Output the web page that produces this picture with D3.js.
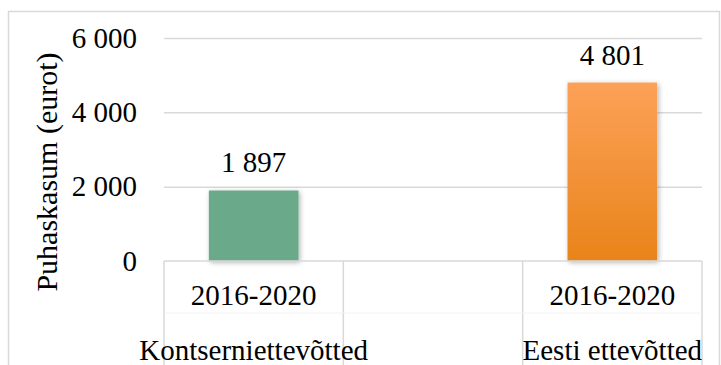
<!DOCTYPE html>
<html>
<head>
<meta charset="utf-8">
<script src="https://cdn.jsdelivr.net/npm/d3@7"></script>
<style>
  html, body { margin: 0; padding: 0; background: #fff; }
  svg text { font-family: "Liberation Serif", "Times New Roman", serif !important; }
</style>
</head>
<body>
<svg id="chart"></svg>
<script>
// category slots (middle one is an empty spacer in the original chart)
const groups = ["Kontserniettevõtted", "", "Eesti ettevõtted"];
const periods = ["2016-2020", "", "2016-2020"];
const values = [1897, null, 4801];
const yTicks = [0, 2000, 4000, 6000];
const yTitle = "Puhaskasum (eurot)";

const width = 721, height = 365;
const margin = { top: 38, right: 19, bottom: 104, left: 164 };
const fontSize = 29;
const serif = "Liberation Serif";

const svg = d3.select("#chart").attr("width", width).attr("height", height);

const defs = svg.append("defs");
const grad = defs.append("linearGradient")
  .attr("id", "orangeGrad").attr("x1", 0).attr("y1", 0).attr("x2", 0).attr("y2", 1);
grad.append("stop").attr("offset", "0%").attr("stop-color", "#fda158");
grad.append("stop").attr("offset", "100%").attr("stop-color", "#e8841a");

const shadow = defs.append("filter").attr("id", "shadow")
  .attr("x", "-20%").attr("y", "-20%").attr("width", "140%").attr("height", "140%");
shadow.append("feDropShadow")
  .attr("dx", 1.5).attr("dy", 1.5).attr("stdDeviation", 2.5)
  .attr("flood-color", "#000").attr("flood-opacity", 0.3);

// outer chart border
svg.append("rect")
  .attr("x", 8.5).attr("y", 11.5)
  .attr("width", 711).attr("height", 400)
  .attr("fill", "none").attr("stroke", "#d9d9d9").attr("stroke-width", 1.5);

const x = d3.scaleBand()
  .domain(d3.range(groups.length))
  .range([margin.left, width - margin.right])
  .paddingInner(0).paddingOuter(0);

const y = d3.scaleLinear()
  .domain([0, 6000])
  .range([height - margin.bottom, margin.top]);

const fmt = v => d3.format(",")(v).replace(/,/g, " ");

// gridlines + y tick labels
const yAxis = d3.axisLeft(y)
  .tickValues(yTicks)
  .tickSize(-(width - margin.right - margin.left))
  .tickPadding(27)
  .tickFormat(fmt);

const gy = svg.append("g")
  .attr("transform", `translate(${margin.left},0)`)
  .call(yAxis)
  .attr("font-family", serif)
  .attr("font-size", fontSize);
gy.select(".domain").remove();
gy.selectAll(".tick line")
  .attr("stroke", "#d9d9d9").attr("stroke-width", 1.5)
  .filter(d => d === 0).remove();
gy.selectAll(".tick text").attr("fill", "#000");

const txt = sel => sel
  .attr("font-family", serif)
  .attr("font-size", fontSize)
  .attr("fill", "#000");

// y title
svg.append("text")
  .attr("transform", "translate(57, 172) rotate(-90)")
  .attr("text-anchor", "middle")
  .call(txt)
  .attr("font-size", 30)
  .text(yTitle);

// bars
const barW = x.bandwidth() * 0.5;
const barData = values.map((v, i) => ({ v, i })).filter(d => d.v != null);

svg.append("g").selectAll("rect")
  .data(barData)
  .join("rect")
  .attr("x", d => x(d.i) + (x.bandwidth() - barW) / 2)
  .attr("y", d => y(d.v))
  .attr("width", barW)
  .attr("height", d => y(0) - y(d.v))
  .attr("fill", d => d.i === 0 ? "#6aaa8b" : "url(#orangeGrad)")
  .attr("filter", "url(#shadow)");

// data labels
svg.append("g").selectAll("text")
  .data(barData)
  .join("text")
  .attr("x", d => x(d.i) + x.bandwidth() / 2)
  .attr("y", d => y(d.v) - 18)
  .attr("text-anchor", "middle")
  .call(txt)
  .text(d => fmt(d.v));

// category axis (multi-level)
const y0 = y(0);
const axisG = svg.append("g");
axisG.append("line")
  .attr("x1", margin.left).attr("x2", width - margin.right)
  .attr("y1", y0).attr("y2", y0)
  .attr("stroke", "#d9d9d9").attr("stroke-width", 1.5);

const bounds = d3.range(groups.length + 1).map(i => i < groups.length ? x(i) : x(groups.length - 1) + x.bandwidth());
axisG.selectAll("line.sep")
  .data(bounds)
  .join("line")
  .attr("class", "sep")
  .attr("x1", d => d).attr("x2", d => d)
  .attr("y1", y0).attr("y2", height)
  .attr("stroke", "#d9d9d9").attr("stroke-width", 1.5);

axisG.append("line")
  .attr("x1", margin.left).attr("x2", width - margin.right)
  .attr("y1", 313).attr("y2", 313)
  .attr("stroke", "#f2f2f2").attr("stroke-width", 1);

axisG.selectAll("text.period")
  .data(periods)
  .join("text")
  .attr("class", "period")
  .attr("x", (d, i) => x(i) + x.bandwidth() / 2)
  .attr("y", 305)
  .attr("text-anchor", "middle")
  .call(txt)
  .text(d => d);

axisG.selectAll("text.group")
  .data(groups)
  .join("text")
  .attr("class", "group")
  .attr("x", (d, i) => x(i) + x.bandwidth() / 2)
  .attr("y", 360)
  .attr("text-anchor", "middle")
  .call(txt)
  .text(d => d);
</script>
</body>
</html>
